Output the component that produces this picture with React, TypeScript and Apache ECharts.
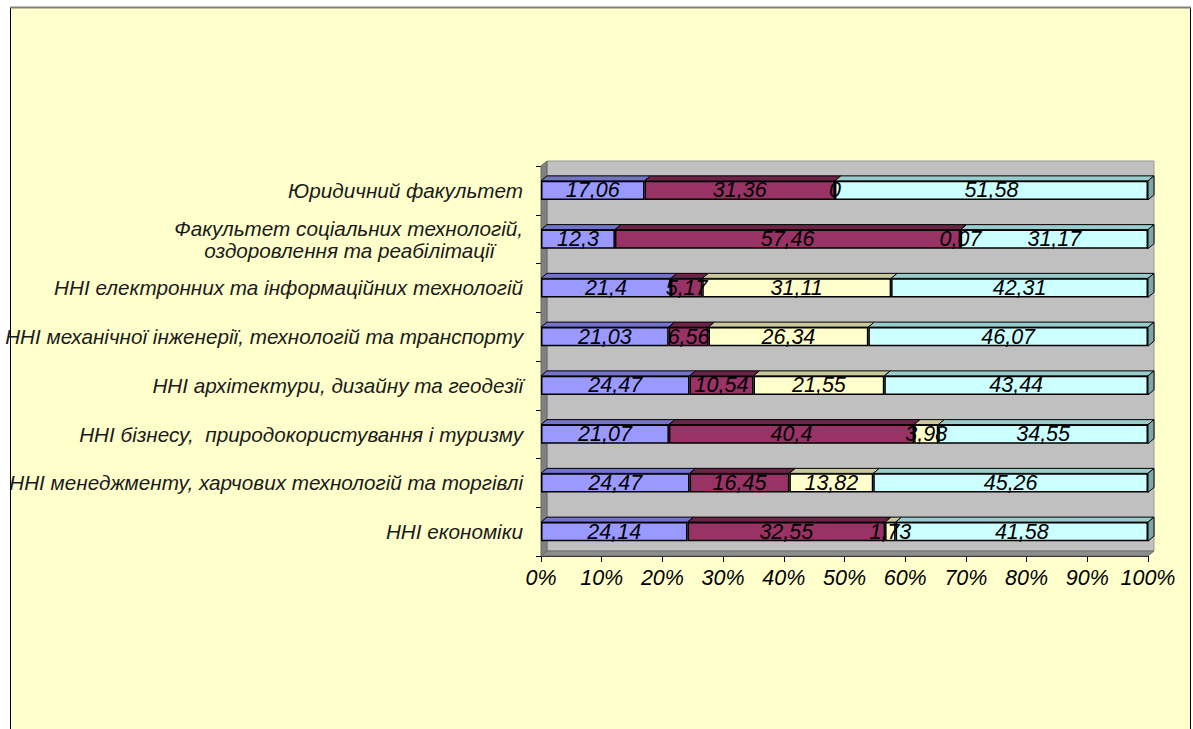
import React, { useEffect, useRef } from "react";
import * as echarts from "echarts";

const categories = [
  "Юридичний факультет",
  "Факультет соціальних технологій,\nоздоровлення та реабілітації     ",
  "ННІ електронних та інформаційних технологій",
  "ННІ механічної інженерії, технологій та транспорту",
  "ННІ архітектури, дизайну та геодезії",
  "ННІ бізнесу,  природокористування і туризму",
  "ННІ менеджменту, харчових технологій та торгівлі",
  "ННІ економіки",
];
const part1 = [17.06, 12.3, 21.4, 21.03, 24.47, 21.07, 24.47, 24.14];
const part2 = [31.36, 57.46, 5.17, 6.56, 10.54, 40.4, 16.45, 32.55];
const part3 = [0, 0.07, 31.11, 26.34, 21.55, 3.98, 13.82, 1.73];
const part4 = [51.58, 31.17, 42.31, 46.07, 43.44, 34.55, 45.26, 41.58];
const parts = [part1, part2, part3, part4];

const frontColors = ["#9999FF", "#993366", "#FFFFCC", "#CCFFFF"];
const topColors = ["#7373CC", "#6B2347", "#C9C99C", "#99CCCC"];
const capColor = "#7FA6A6";
const FONT = "'Liberation Sans', Arial, sans-serif";
const DX = 6;
const DY = -5;
const BAR_RATIO = 0.39;

export default function App() {
  const ref = useRef<HTMLDivElement>(null);
  useEffect(() => {
    if (!ref.current) return;
    const chart = echarts.init(ref.current, undefined, { renderer: "svg" });
    const sums = categories.map((_, i) => parts.reduce((a, p) => a + p[i], 0));
    const pct = parts.map((p) => p.map((v, i) => (v / sums[i]) * 100));
    const fmt = (v: number) => String(v).replace(".", ",");

    const barSeries = parts.map((p, k) => ({
      type: "bar",
      stack: "total",
      barWidth: BAR_RATIO * 100 + "%",
      z: 3,
      data: pct[k],
      itemStyle: { color: frontColors[k], borderColor: "#000", borderWidth: 1.5 },
      label: {
        show: true,
        position: "inside",
        formatter: (params: any) => fmt(p[params.dataIndex]),
        color: "#000",
        fontSize: 21.5,
        fontStyle: "italic",
        fontFamily: FONT,
      },
    }));

    const wallSeries = {
      type: "custom",
      z: 1,
      silent: true,
      data: [[0, 0]],
      encode: { x: 0, y: 1 },
      renderItem: (params: any) => {
        const cs = params.coordSys;
        const x0 = cs.x, y0 = cs.y, x1 = cs.x + cs.width, y1 = cs.y + cs.height;
        return {
          type: "group",
          children: [
            {
              type: "rect",
              shape: { x: x0 + DX, y: y0 + DY, width: cs.width, height: cs.height },
              style: { fill: "#C0C0C0", stroke: "#9a9a9a", lineWidth: 1 },
            },
            {
              type: "polygon",
              shape: { points: [[x0, y0], [x0 + DX, y0 + DY], [x0 + DX, y1 + DY], [x0, y1]] },
              style: { fill: "#808080", stroke: "#6a6a6a", lineWidth: 1 },
            },
            {
              type: "polygon",
              shape: { points: [[x0, y1], [x0 + DX, y1 + DY], [x1 + DX, y1 + DY], [x1, y1]] },
              style: { fill: "#8c8c8c", stroke: "#6a6a6a", lineWidth: 1 },
            },
          ],
        };
      },
    };

    const topSeries = {
      type: "custom",
      z: 4,
      silent: true,
      data: categories.map((_, i) => [0, i]),
      encode: { x: 0, y: 1 },
      renderItem: (params: any, api: any) => {
        const i = params.dataIndex;
        const band = api.size([0, 1])[1];
        const h = band * BAR_RATIO;
        const cy = api.coord([0, i])[1];
        const yT = cy - h / 2;
        const yB = cy + h / 2;
        const children: any[] = [];
        let cum = 0;
        for (let k = 0; k < parts.length; k++) {
          const v = pct[k][i];
          const xa = api.coord([cum, i])[0];
          cum += v;
          const xb = api.coord([cum, i])[0];
          if (xb - xa < 0.01) continue;
          children.push({
            type: "polygon",
            shape: { points: [[xa, yT], [xa + DX, yT + DY], [xb + DX, yT + DY], [xb, yT]] },
            style: { fill: topColors[k], stroke: "#000", lineWidth: 1 },
          });
        }
        const xe = api.coord([100, i])[0];
        children.push({
          type: "polygon",
          shape: { points: [[xe, yT], [xe + DX, yT + DY], [xe + DX, yB + DY], [xe, yB]] },
          style: { fill: capColor, stroke: "#000", lineWidth: 1 },
        });
        return { type: "group", children };
      },
    };

    chart.setOption({
      animation: false,
      backgroundColor: "#ffffff",
      graphic: {
        elements: [
          {
            type: "rect",
            z: -100,
            silent: true,
            shape: { x: 10.5, y: 7.5, width: 1180, height: 760 },
            style: { fill: "#FFFFCC", stroke: "#000", lineWidth: 1 },
          },
          {
            type: "line",
            z: -99,
            silent: true,
            shape: { x1: 10, y1: 7.5, x2: 1191, y2: 7.5 },
            style: { stroke: "#808080", lineWidth: 2 },
          },
        ],
      },
      grid: { left: 541, right: 45, top: 166, bottom: 173 },
      xAxis: {
        type: "value",
        min: 0,
        max: 100,
        interval: 10,
        axisLine: { show: true, lineStyle: { color: "#000", width: 1 } },
        axisTick: { show: true, length: 6, lineStyle: { color: "#000" } },
        splitLine: { show: false },
        axisLabel: {
          formatter: "{value}%",
          color: "#000",
          fontSize: 21.5,
          fontStyle: "italic",
          fontFamily: FONT,
          margin: 11,
        },
      },
      yAxis: {
        type: "category",
        inverse: true,
        data: categories,
        axisLine: { show: true, lineStyle: { color: "#000", width: 1 } },
        axisTick: { show: true, length: 5, lineStyle: { color: "#000" } },
        axisLabel: {
          color: "#1a1a1a",
          fontSize: 20.7,
          fontStyle: "italic",
          fontFamily: FONT,
          margin: 18,
          lineHeight: 22,
          align: "right",
        },
      },
      series: [wallSeries, ...barSeries, topSeries],
    });
    return () => chart.dispose();
  }, []);
  return (
    <div
      ref={ref}
      style={{ position: "absolute", left: 0, top: 0, width: 1193, height: 729 }}
    />
  );
}
